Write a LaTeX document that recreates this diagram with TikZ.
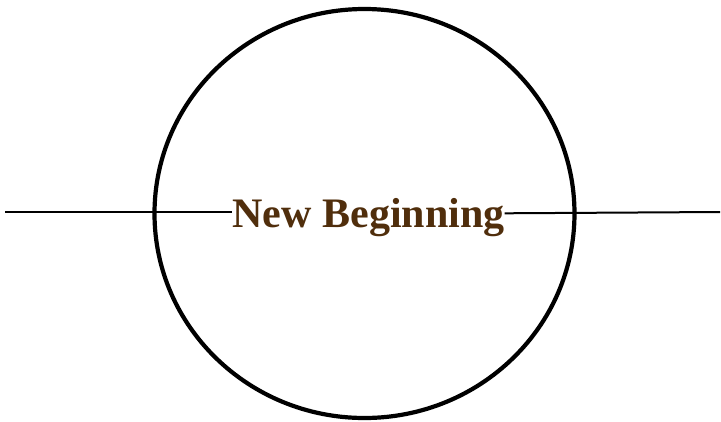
\documentclass[tikz,border=0pt]{standalone}
\usepackage{fontspec}
\setmainfont{Liberation Serif}
\usepackage{tikz}
\definecolor{ringbrown}{RGB}{80,46,12}

\begin{document}
\begin{tikzpicture}[x=1pt,y=-1pt,
    ring/.style={line width=4.2pt},
    rule/.style={line width=2pt},
    title/.style={font=\fontsize{42}{48}\bfseries\selectfont,text=ringbrown,inner sep=0pt,anchor=base}]
    \useasboundingbox (0,0) rectangle (721,421);
    \draw[ring] (364.5,213.5) ellipse [x radius=210pt,y radius=204.5pt];
    \node[title] (newbeg) at (368.5,227) {New Beginning};
    \coordinate (lout) at (5,211.7);
    \coordinate (rin) at (0,213.3);
    \coordinate (rout) at (720,212);
    \draw[rule] (lout)--(lout -| newbeg.west);
    \draw[rule] (newbeg.east |- rin)--(rout);
  \end{tikzpicture}
\end{document}
